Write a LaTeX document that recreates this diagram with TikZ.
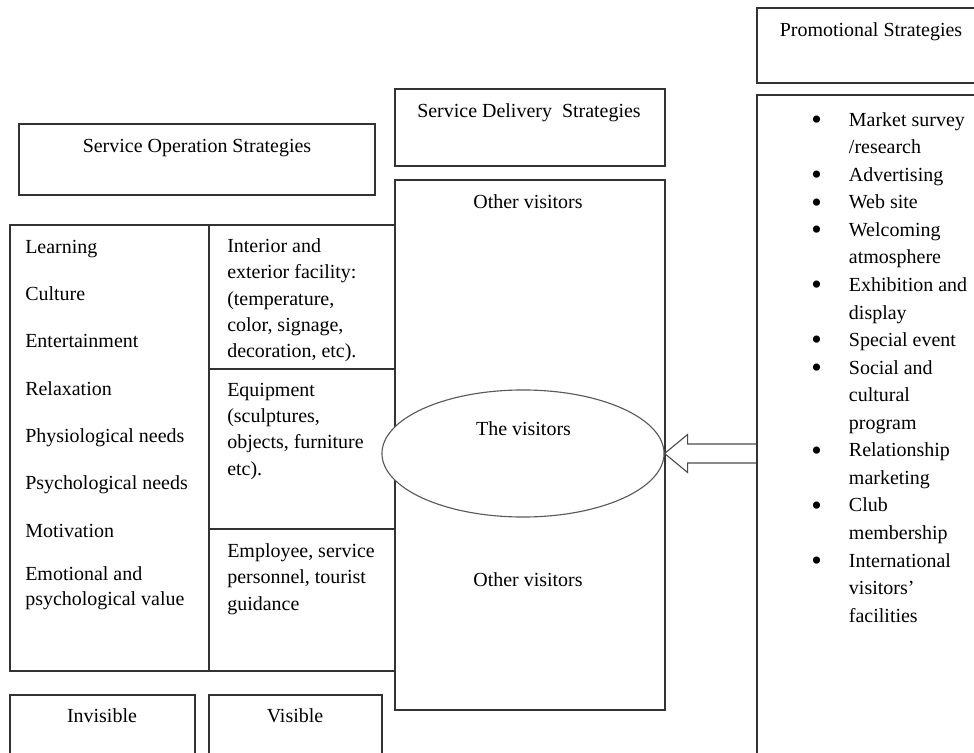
\documentclass[tikz,border=0pt]{standalone}
\usepackage{fontspec}
\setmainfont{Liberation Serif}
\usetikzlibrary{calc, shapes.geometric}

\newcommand{\promdot}{\raisebox{-0.17em}{\scalebox{1.5}{\textbullet}}}

\begin{document}
\begin{tikzpicture}[
  x=0.025cm, y=-0.025cm,
  box/.style={rectangle, draw=black!80, line width=1pt, inner sep=0pt},
  visit/.style={ellipse, draw=black!65, line width=0.8pt, fill=white, inner sep=0pt},
  ttl/.style={inner sep=0pt, anchor=base, font=\fontsize{14.2}{19.6}\selectfont},
  cell/.style={inner sep=0pt, align=left, anchor=north west,
               font=\fontsize{14.2}{18.8}\selectfont, execute at begin node=\strut},
  needtxt/.style={cell, font=\fontsize{14.2}{17.8}\selectfont},
  blockarr/.style={draw=black!70, line width=0.8pt, line join=miter}
]
  \useasboundingbox (0,0) rectangle (974,753);

  %% --- Promotional column ---
  \node[box, minimum width=5.7cm, minimum height=1.875cm] (promhead) at (871,45.5) {};
  \node[box, minimum width=5.7cm, minimum height=17cm]    (promlist) at (871,435) {};

  %% --- Service delivery column ---
  \node[box, minimum width=6.75cm, minimum height=1.925cm] (delhead) at (530,127.5) {};
  \node[box, minimum width=6.75cm, minimum height=13.25cm] (delivery) at (530,445) {};

  %% --- Service operation column ---
  \node[box, minimum width=8.9cm, minimum height=1.775cm] (ophead) at (197,159.5) {};
  \node[box, minimum width=4.975cm, minimum height=11.15cm] (needs) at (109.5,448) {};
  \node[box, minimum width=4.65cm, minimum height=3.6cm]  (facility) at (302,297) {};
  \node[box, minimum width=4.65cm, minimum height=4cm]    (equip)    at (302,449) {};
  \node[box, minimum width=4.65cm, minimum height=3.55cm] (staff)    at (302,600) {};

  %% --- Bottom boxes ---
  \node[box, minimum width=4.625cm, minimum height=2cm] (invis)   at (102.5,735) {};
  \node[box, minimum width=4.325cm, minimum height=2cm] (visible) at (295.5,735) {};

  %% --- Titles ---
  \node[ttl] (promtitle) at (871,37)  {Promotional Strategies};
  \node[ttl] (deltitle)  at (529,118) {Service Delivery~ Strategies};
  \node[ttl] (optitle)   at (197,153) {Service Operation Strategies};
  \node[ttl] (upper)     at (528,209) {Other visitors};
  \node[ttl] (lower)     at (528,587) {Other visitors};
  \node[ttl] (invistxt)  at (102,722) {Invisible};
  \node[ttl] (vistxt)    at (295,722) {Visible};

  %% --- Needs list ---
  \foreach \need [count=\i from 0] in {Learning, Culture, Entertainment, Relaxation,
      Physiological needs, Psychological needs, Motivation,
      {Emotional and\\psychological value}}
    \node[needtxt] (need\i) at (25,235.5+47.3*\i) {\need};

  %% --- Service cells ---
  \node[cell] (factxt) at (227,238)
    {Interior and\\exterior facility:\\(temperature,\\color, signage,\\decoration, etc).};
  \node[cell] (eqtxt) at (227,382.5)
    {Equipment\\(sculptures,\\objects, furniture\\etc).};
  \node[cell] (stafftxt) at (227,543)
    {Employee, service\\personnel, tourist\\guidance};

  %% --- Promotional items ---
  \node[inner sep=0pt, anchor=north west, font=\fontsize{14.2}{19.6}\selectfont]
    (promitems) at (811,106.5) {%
    \begin{tabular}{@{}l@{\hspace{0.68cm}}l@{}}
      \promdot & Market survey\\
               & /research\\
      \promdot & Advertising\\
      \promdot & Web site\\
      \promdot & Welcoming\\
               & atmosphere\\
      \promdot & Exhibition and\\
               & display\\
      \promdot & Special event\\
      \promdot & Social and\\
               & cultural\\
               & program\\
      \promdot & Relationship\\
               & marketing\\
      \promdot & Club\\
               & membership\\
      \promdot & International\\
               & visitors'\\
               & facilities
    \end{tabular}};

  %% --- The visitors ---
  \node[visit, minimum width=7.05cm, minimum height=3.175cm] (visitors) at (523,453.5) {};
  \node[ttl] (visname) at (523.5,436) {The visitors};

  %% --- Hollow arrow: promotion -> visitors ---
  \draw[blockarr]
    ($(promlist.west |- visitors.east)+(0,-9.5)$) -- ($(visitors.east)+(23,-9.5)$)
    -- ($(visitors.east)+(23,-19)$) -- (visitors.east)
    -- ($(visitors.east)+(23,19)$) -- ($(visitors.east)+(23,9.5)$)
    -- ($(promlist.west |- visitors.east)+(0,9.5)$);

\end{tikzpicture}
\end{document}
